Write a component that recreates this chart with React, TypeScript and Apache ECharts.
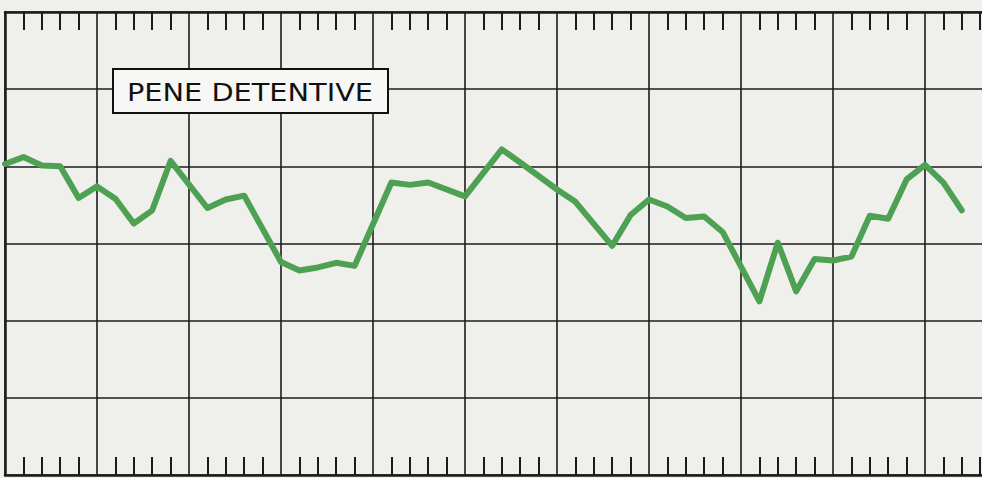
import React, { useEffect, useRef } from "react";
import * as echarts from "echarts";

// Recorder trace: one reading per minor division (null = no vertex drawn there)
const sampleIndex: number[] = Array.from({ length: 53 }, (_, i) => i);
const traceValues: (number | null)[] = [
  40.3, 41.2, 40.1, 40.0, 35.9, 37.4, 35.8, 32.6, 34.3, 40.7,
  null, 34.6, 35.7, 36.2, null, 27.6, 26.5, 26.9, 27.5, 27.1,
  null, 37.9, 37.6, 37.9, null, 36.1, null, 42.2, 40.5, null,
  37.0, 35.4, null, 29.7, 33.7, 35.7, 34.8, 33.3, 33.5, 31.5,
  null, 22.5, 30.1, 23.8, 28.0, 27.8, 28.3, 33.6, 33.2, 38.3,
  40.2, 37.9, 34.3,
];
const labelText = "PENE DETENTIVE";
const xRange = [0, 55];
const yRange = [0, 60];

export default function App() {
  const ref = useRef<HTMLDivElement>(null);
  useEffect(() => {
    if (!ref.current) return;
    const chart = echarts.init(ref.current, undefined, { renderer: "svg" });
    const data = sampleIndex
      .map((i) => [i, traceValues[i]])
      .filter((p) => p[1] !== null);
    const ink = "#1c1c1c";
    const xCommon = {
      type: "value" as const,
      min: xRange[0],
      max: xRange[1],
      interval: 5,
      axisLabel: { show: false },
      axisTick: { show: false, inside: true },
      minorTick: {
        show: true,
        splitNumber: 5,
        length: 18,
        lineStyle: { color: ink, width: 2 },
      },
      axisLine: { show: true, onZero: false, lineStyle: { color: ink, width: 2.5 } },
    };
    chart.setOption({
      animation: false,
      backgroundColor: "#efefec",
      grid: { left: 5, right: 3, top: 12, bottom: 3, containLabel: false },
      xAxis: [
        {
          ...xCommon,
          position: "bottom",
          splitLine: { show: true, lineStyle: { color: ink, width: 1.6 } },
        },
        {
          ...xCommon,
          position: "top",
          splitLine: { show: false },
        },
      ],
      yAxis: {
        type: "value",
        min: yRange[0],
        max: yRange[1],
        interval: 10,
        axisLabel: { show: false },
        axisTick: { show: false },
        axisLine: { show: true, onZero: false, lineStyle: { color: ink, width: 2.5 } },
        splitLine: { show: true, lineStyle: { color: ink, width: 1.6 } },
      },
      series: [
        {
          type: "line",
          data,
          symbol: "none",
          connectNulls: true,
          z: 5,
          lineStyle: { color: "#4ea153", width: 6, cap: "round", join: "round" },
        },
      ],
      graphic: [
        {
          type: "rect",
          z: 100,
          shape: { x: 113, y: 69, width: 275, height: 44 },
          style: { fill: "#f7f7f5", stroke: "#111", lineWidth: 2 },
        },
        {
          type: "text",
          z: 101,
          x: 250,
          y: 92,
          scaleX: 1.2,
          style: {
            text: labelText,
            font: "24px 'DejaVu Sans'",
            fill: "#111",
            align: "center",
            verticalAlign: "middle",
          },
        },
      ],
    });
    return () => chart.dispose();
  }, []);
  return (
    <div
      style={{
        position: "absolute",
        left: 0,
        top: 0,
        width: 982,
        height: 478,
        overflow: "hidden",
        background: "#efefec",
      }}
    >
      <div ref={ref} style={{ width: 1020, height: 478 }} />
    </div>
  );
}
